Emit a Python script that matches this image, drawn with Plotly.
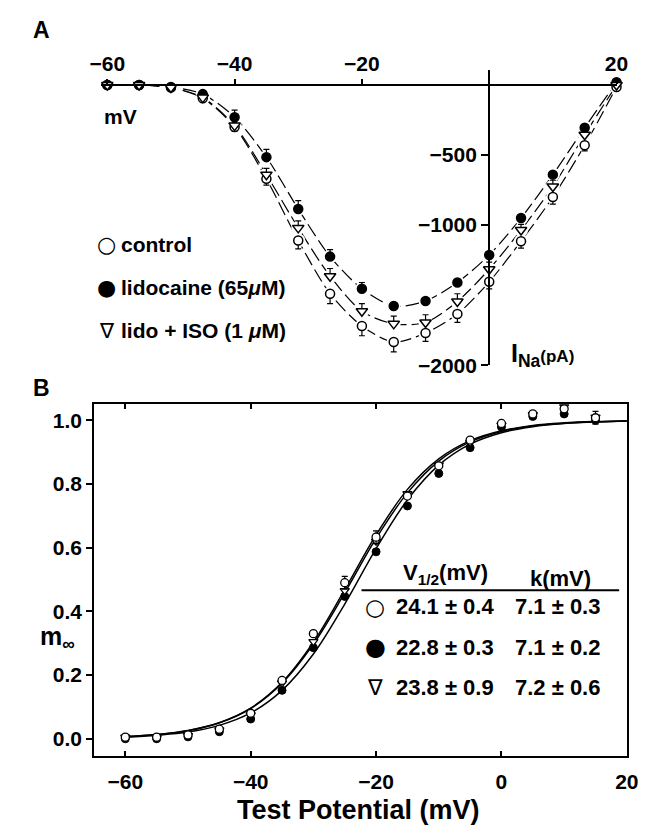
import plotly.graph_objects as go

W, H = 654, 827

# ---------------- data: panel A (I-V relation) ----------------
volt_a = [-60, -55, -50, -45, -40, -35, -30, -25, -20, -15, -10, -5, 0, 5, 10, 15, 20]
ina_control = [0, 0, -18, -95, -300, -670, -1110, -1490, -1720, -1835, -1770, -1635, -1405, -1115, -800, -430, -15]
ina_lido = [0, 0, -15, -65, -230, -515, -885, -1225, -1455, -1578, -1542, -1410, -1213, -950, -640, -305, 20]
ina_iso = [0, 0, -18, -90, -290, -640, -1020, -1365, -1615, -1705, -1695, -1545, -1315, -1035, -725, -355, 0]
err_control = [0, 0, 0, 0, 30, 45, 60, 70, 70, 70, 60, 60, 50, 50, 50, 40, 0]
err_lido = [0, 0, 0, 0, 50, 55, 60, 50, 45, 0, 0, 0, 0, 0, 0, 0, 0]
err_iso = [0, 0, 0, 0, 0, 45, 50, 55, 55, 55, 55, 55, 50, 40, 45, 0, 0]

# ---------------- data: panel B (activation) ----------------
volt_b = [-60, -55, -50, -45, -40, -35, -30, -25, -20, -15, -10, -5, 0, 5, 10, 15]
m_control = [0.005, 0.005, 0.012, 0.03, 0.08, 0.183, 0.33, 0.49, 0.633, 0.762, 0.857, 0.938, 0.99, 1.02, 1.036, 1.008]
m_lido = [0.0, 0.0, 0.006, 0.022, 0.062, 0.152, 0.286, 0.447, 0.587, 0.731, 0.833, 0.914, 0.979, 1.012, 1.02, 1.0]
m_iso = [0.005, 0.003, 0.01, 0.028, 0.075, 0.175, 0.305, 0.465, 0.62, 0.77, 0.86, 0.93, 0.985, 1.018, 1.043, 1.01]
err_m_control = [0, 0, 0, 0, 0, 0, 0, 0.02, 0.02, 0, 0, 0, 0, 0, 0.01, 0.02]

# fitted curves
fit_v = [-60, -55, -50, -45, -40, -35, -30, -25, -20, -15, -10, -5, 0, 5, 10, 15, 20]
fit_control = [0.006, 0.013, 0.025, 0.050, 0.096, 0.177, 0.303, 0.468, 0.640, 0.783, 0.879, 0.936, 0.967, 0.984, 0.992, 0.996, 0.998]
fit_lido = [0.005, 0.011, 0.021, 0.042, 0.081, 0.152, 0.266, 0.423, 0.597, 0.750, 0.859, 0.925, 0.961, 0.980, 0.990, 0.995, 0.998]
fit_iso = [0.007, 0.013, 0.026, 0.050, 0.095, 0.174, 0.297, 0.458, 0.629, 0.772, 0.872, 0.932, 0.965, 0.982, 0.991, 0.995, 0.998]

legend_labels = ["control", "lidocaine (65<i>μ</i>M)", "lido + ISO (1 <i>μ</i>M)"]
legend_symbols = ["○", "●", "∇"]
vhalf_text = ["24.1 ± 0.4", "22.8 ± 0.3", "23.8 ± 0.9"]
k_text = ["7.1 ± 0.3", "7.1 ± 0.2", "7.2 ± 0.6"]

FAM = "Liberation Sans, Arial, sans-serif"
SYMFAM = "DejaVu Sans, sans-serif"


def px(x):
    return x / W


def py(y):
    return 1 - y / H


fig = go.Figure()

series_a = [
    (ina_control, err_control, "circle", "white", True),
    (ina_lido, err_lido, "circle", "black", False),
    (ina_iso, err_iso, "triangle-down", "white", False),
]

# dashed connecting curves
for y, _, _, _, _ in series_a:
    fig.add_trace(go.Scatter(x=volt_a, y=y, mode="lines", xaxis="x", yaxis="y",
                             line=dict(color="black", width=1.2, dash="14px,5px", shape="spline", smoothing=0.8),
                             hoverinfo="skip", showlegend=False))
# white halos to create gaps around points
for y, _, _, _, _ in series_a:
    fig.add_trace(go.Scatter(x=volt_a, y=y, mode="markers", xaxis="x", yaxis="y",
                             marker=dict(size=14, color="white", line=dict(width=0)),
                             hoverinfo="skip", showlegend=False))
# markers with error bars
for y, err, sym, fill, down in series_a:
    ed = dict(type="data", symmetric=False, color="black", thickness=1.2, width=3)
    if down:
        ed["array"] = [0] * len(err)
        ed["arrayminus"] = err
    else:
        ed["array"] = err
        ed["arrayminus"] = [0] * len(err)
    fig.add_trace(go.Scatter(x=volt_a, y=y, mode="markers", xaxis="x", yaxis="y",
                             error_y=ed, cliponaxis=False,
                             marker=dict(symbol=sym, size=9 if sym == "circle" else 10, color=fill,
                                         line=dict(color="black", width=1.5)),
                             showlegend=False))

# ---------------- panel B ----------------
for fy in (fit_control, fit_lido, fit_iso):
    fig.add_trace(go.Scatter(x=fit_v, y=fy, mode="lines", xaxis="x2", yaxis="y2",
                             line=dict(color="black", width=1.5, shape="spline", smoothing=1.0),
                             hoverinfo="skip", showlegend=False))

fig.add_trace(go.Scatter(x=volt_b, y=m_lido, mode="markers", xaxis="x2", yaxis="y2",
                         marker=dict(symbol="circle", size=8, color="black", line=dict(color="black", width=1)),
                         showlegend=False))
fig.add_trace(go.Scatter(x=volt_b, y=m_iso, mode="markers", xaxis="x2", yaxis="y2",
                         marker=dict(symbol="triangle-down", size=8, color="white", line=dict(color="black", width=1.3)),
                         showlegend=False))
fig.add_trace(go.Scatter(x=volt_b, y=m_control, mode="markers", xaxis="x2", yaxis="y2",
                         error_y=dict(type="data", array=err_m_control, color="black", thickness=1.2, width=3),
                         marker=dict(symbol="circle", size=8, color="white", line=dict(color="black", width=1.3)),
                         showlegend=False))

tickfont = dict(family=FAM, size=21, color="black", weight="bold")

fig.update_layout(
    width=W, height=H, margin=dict(l=0, r=0, t=0, b=0),
    paper_bgcolor="white", plot_bgcolor="rgba(0,0,0,0)",
    font=dict(family=FAM, color="black"),
    xaxis=dict(domain=[px(84.9), px(619.3)], range=[-61, 20], anchor="free", position=py(78),
               side="top", showline=True, linecolor="black", linewidth=1.5,
               ticks="outside", ticklen=5, tickwidth=1.5, tickcolor="black",
               tickvals=[-60, -40, -20, 20], tickfont=tickfont, showgrid=False, zeroline=False),
    yaxis=dict(domain=[py(362), py(62.4)], range=[-2000, 110], anchor="free", position=px(487),
               side="left", showline=True, linecolor="black", linewidth=1.5,
               ticks="outside", ticklen=7, tickwidth=1.5, tickcolor="black",
               tickvals=[-500, -1000, -2000],
               tickfont=tickfont, showgrid=False, zeroline=False),
    yaxis4=dict(overlaying="y", anchor="free", position=px(487), side="left", range=[-2000, 110],
                ticks="outside", ticklen=7, tickwidth=1.5, tickcolor="black",
                tickvals=[-1500], showticklabels=False, showline=False, showgrid=False, zeroline=False),
    xaxis2=dict(domain=[px(77.7), px(630)], range=[-65, 20], anchor="y2",
                showline=True, mirror="ticks", linecolor="black", linewidth=1.5,
                ticks="inside", ticklen=5, tickwidth=1.5, tickcolor="black",
                tickvals=[-60, -40, -20, 0, 20], tickfont=tickfont, ticklabelstandoff=6,
                showgrid=False, zeroline=False),
    yaxis2=dict(domain=[py(757.7), py(401.7)], range=[-0.053, 1.05], anchor="x2",
                showline=True, mirror=True, linecolor="black", linewidth=1.5,
                ticks="outside", ticklen=6, tickwidth=1.5, tickcolor="black",
                tickvals=[0, 0.2, 0.4, 0.6, 0.8, 1.0], tickformat=".1f", tickfont=tickfont,
                showgrid=False, zeroline=False),
    yaxis3=dict(overlaying="y2", anchor="x2", side="right", range=[-0.053, 1.05],
                ticks="inside", ticklen=5, tickwidth=1.5, tickcolor="black",
                tickvals=[0, 0.2, 0.4, 0.6, 0.8, 1.0], showticklabels=False,
                showline=False, showgrid=False, zeroline=False),
)

ann = []


def add_text(x, y, text, size, xanchor="left", yanchor="middle", bold=True, family=FAM):
    ann.append(dict(x=px(x), y=py(y), xref="paper", yref="paper", text=text, showarrow=False,
                    xanchor=xanchor, yanchor=yanchor,
                    font=dict(family=family, size=size, color="black", weight="bold" if bold else "normal")))


add_text(12, 22, "A", 23)
add_text(12, 385, "B", 23)
add_text(86, 110, "mV", 21)

legend_y = [240, 283, 327]
legend_sym_size = [22, 22, 21]
for sym, lab, yy, ss in zip(legend_symbols, legend_labels, legend_y, legend_sym_size):
    add_text(91, yy, sym, ss, xanchor="center", bold=False, family=SYMFAM)
    add_text(104, yy, lab, 21)

add_text(508, 352, "I<sub>Na</sub><span style='font-size:17px'>(pA)</span>", 25)

add_text(20, 638, "m<sub>∞</sub>", 25)
add_text(352, 813, "Test Potential (mV)", 27, xanchor="center")

add_text(396, 574, "V<sub>1/2</sub>(mV)", 22)
add_text(528, 578, "k(mV)", 22)
row_y = [607, 648, 689]
row_sym_size = [23, 24, 22]
for sym, vh, kk, yy, ss in zip(legend_symbols, vhalf_text, k_text, row_y, row_sym_size):
    add_text(369, yy, sym, ss, xanchor="center", bold=False, family=SYMFAM)
    add_text(389, yy, vh, 22)
    add_text(512, yy, kk, 22)

fig.update_layout(annotations=ann,
                  shapes=[dict(type="line", xref="paper", yref="paper", x0=px(355), x1=px(622),
                               y0=py(590), y1=py(590), line=dict(color="black", width=2))])

fig.write_html("out.html")
